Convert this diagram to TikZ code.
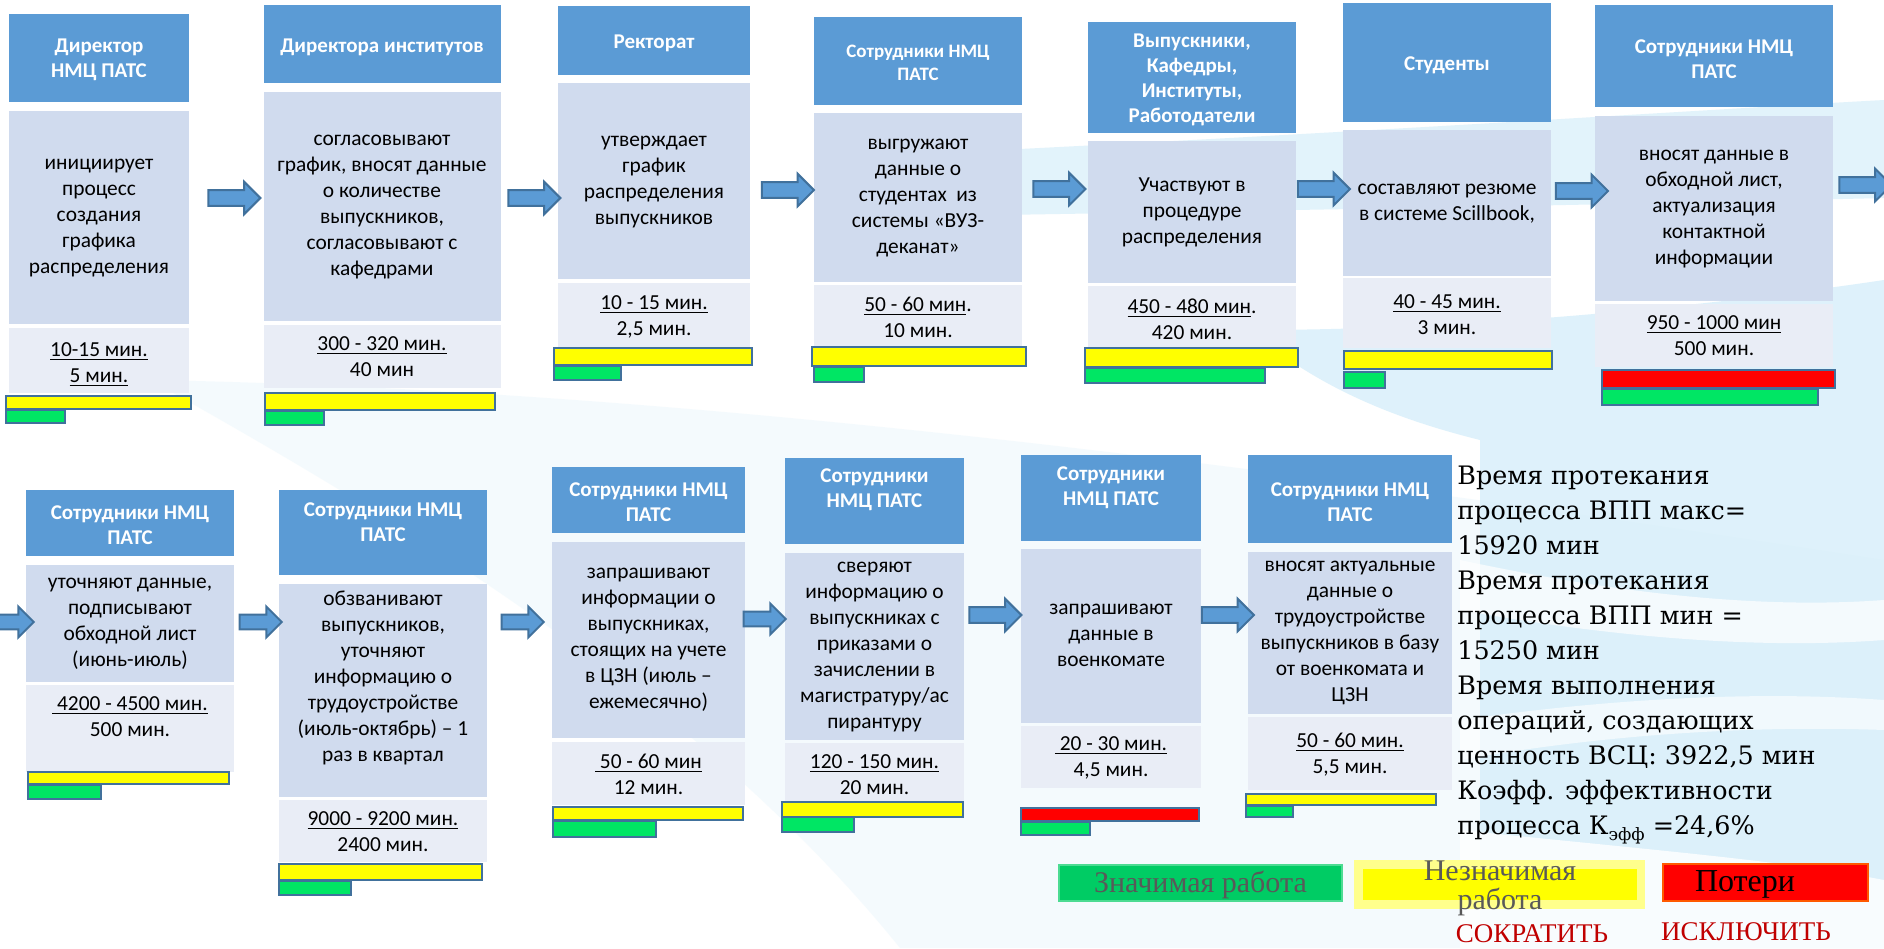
\documentclass[tikz,border=0pt]{standalone}
\usepackage{fontspec}
\setmainfont{Carlito}
\newfontfamily\bkfont{DejaVu Serif}
\newfontfamily\lgfont{Liberation Serif}
\usetikzlibrary{fit,shapes.arrows}
\definecolor{hdrblue}{RGB}{91,155,213}
\definecolor{bodyblue}{RGB}{208,219,238}
\definecolor{timeblue}{RGB}{233,237,246}
\definecolor{edgeblue}{RGB}{65,113,156}
\definecolor{baryellow}{RGB}{255,255,0}
\definecolor{bargreen}{RGB}{0,230,100}
\definecolor{barred}{RGB}{255,0,0}
\definecolor{bgblue}{RGB}{214,238,250}
\definecolor{lggreen}{RGB}{0,204,100}
\definecolor{lgtext}{RGB}{89,89,89}
\definecolor{darkred}{RGB}{192,0,0}
\tikzset{
  box/.style={inner sep=0pt, outer sep=0pt, draw=none},
  hdr/.style={box, fill=hdrblue},
  bodybox/.style={box, fill=bodyblue},
  timebox/.style={box, fill=timeblue},
  bar/.style={inner sep=0pt, outer sep=0pt, draw=edgeblue, line width=1.1pt},
  ybar/.style={bar, fill=baryellow},
  gbar/.style={bar, fill=bargreen},
  rbar/.style={bar, fill=barred},
  htxt/.style={align=center, text=white, inner sep=0pt, font=\bfseries\fontsize{10.5}{12.5}\selectfont},
  htxts/.style={htxt, font=\bfseries\fontsize{9.5}{11.5}\selectfont},
  btxt/.style={align=center, text=black, inner sep=0pt, font=\fontsize{10.7}{13}\selectfont},
  blockarrow/.style={single arrow, draw=edgeblue, fill=hdrblue, line width=1pt,
    single arrow head extend=4.2pt, single arrow tip angle=90, inner ysep=3.4pt, inner xsep=0pt,
    minimum width=15.5pt, minimum height=26pt, outer sep=0pt},
  shortarrow/.style={blockarrow, minimum height=21pt, minimum width=15pt, single arrow head extend=4pt, inner ysep=3.2pt},
  sumtxt/.style={align=left, anchor=north west, inner sep=0pt, text=black, font=\bkfont\fontsize{12.7}{17.5}\selectfont},
}
\begin{document}
\begin{tikzpicture}[x=0.5pt,y=-0.5pt]
\useasboundingbox (0,0) rectangle (1884,948);
\fill[white] (0,0) rectangle (1884,948);
% background swooshes
\fill[bgblue, opacity=0.25] (150,380) .. controls (700,390) and (1300,470) .. (1884,560) -- (1884,948) -- (900,948) .. controls (700,700) and (400,520) .. (150,380) -- cycle;
\fill[bgblue, opacity=0.7] (1000,150) .. controls (1400,130) and (1700,110) .. (1884,100) -- (1884,198) .. controls (1600,205) and (1300,210) .. (1000,215) -- cycle;
\fill[bgblue, opacity=0.8] (1250,330) .. controls (1500,330) and (1750,300) .. (1884,280) -- (1884,948) -- (1480,948) -- (1480,440) .. controls (1400,420) and (1320,390) .. (1250,330) -- cycle;
\fill[white, opacity=0.7] (1460,560) .. controls (1600,590) and (1750,610) .. (1884,600) -- (1884,640) .. controls (1750,650) and (1600,635) .. (1460,610) -- cycle;
\fill[white, opacity=0.6] (1460,720) .. controls (1600,700) and (1750,690) .. (1884,700) -- (1884,730) .. controls (1750,725) and (1600,735) .. (1460,760) -- cycle;
\fill[white, opacity=0.8] (1460,830) .. controls (1650,850) and (1780,860) .. (1884,880) -- (1884,948) -- (1460,948) -- cycle;

% ===== top row =====
% step 1
\node[hdr, fit={(9,14) (189,102)}] (h1) {};
\node[bodybox, fit={(9,111) (189,324)}] (b1) {};
\node[timebox, fit={(9,328) (189,393)}] (t1) {};
\node[ybar, fit={(6,396) (191,409)}] (y1) {};
\node[gbar, fit={(6,410) (65,423)}] (g1) {};
\node[htxt] (h1t) at (99,60) {Директор\\НМЦ ПАТС};
\node[btxt] (b1t) at (99,218) {инициирует\\процесс\\создания\\графика\\распределения};
\node[btxt] (t1t) at (99,365) {\underline{10-15 мин.}\\\underline{5 мин.}};
% step 2
\node[hdr, fit={(264,5) (501,83)}] (h2) {};
\node[bodybox, fit={(264,92) (501,321)}] (b2) {};
\node[timebox, fit={(264,325) (501,388)}] (t2) {};
\node[ybar, fit={(265,393) (495,410)}] (y2) {};
\node[gbar, fit={(265,411) (324,425)}] (g2) {};
\node[htxt] (h2t) at (382,47) {Директора институтов};
\node[btxt] (b2t) at (382,207) {согласовывают\\график, вносят данные\\о количестве\\выпускников,\\согласовывают с\\кафедрами};
\node[btxt] (t2t) at (382,357) {\underline{300 - 320 мин.}\\40 мин};
% step 3
\node[hdr, fit={(558,6) (750,75)}] (h3) {};
\node[bodybox, fit={(558,83) (750,279)}] (b3) {};
\node[timebox, fit={(558,283) (750,347)}] (t3) {};
\node[ybar, fit={(554,348) (752,365)}] (y3) {};
\node[gbar, fit={(554,366) (621,380)}] (g3) {};
\node[htxt] (h3t) at (654,43) {Ректорат};
\node[btxt] (b3t) at (654,182) {утверждает\\график\\распределения\\выпускников};
\node[btxt] (t3t) at (654,317) {\underline{10 - 15 мин.}\\2,5 мин.};
% step 4
\node[hdr, fit={(814,17) (1022,105)}] (h4) {};
\node[bodybox, fit={(814,113) (1022,282)}] (b4) {};
\node[timebox, fit={(814,285) (1022,347)}] (t4) {};
\node[ybar, fit={(812,347) (1026,366)}] (y4) {};
\node[gbar, fit={(814,367) (864,382)}] (g4) {};
\node[htxts] (h4t) at (918,63) {Сотрудники НМЦ\\ПАТС};
\node[btxt] (b4t) at (918,198) {выгружают\\данные о\\студентах\ \ из\\системы «ВУЗ-\\деканат»};
\node[btxt] (t4t) at (918,317) {\underline{50 - 60 мин}.\\10 мин.};
% step 5
\node[hdr, fit={(1088,22) (1296,133)}] (h5) {};
\node[bodybox, fit={(1088,141) (1296,283)}] (b5) {};
\node[timebox, fit={(1088,286) (1296,347)}] (t5) {};
\node[ybar, fit={(1085,348) (1298,367)}] (y5) {};
\node[gbar, fit={(1085,368) (1265,383)}] (g5) {};
\node[htxt] (h5t) at (1192,80) {Выпускники,\\Кафедры,\\Институты,\\Работодатели};
\node[btxt] (b5t) at (1192,212) {Участвуют в\\процедуре\\распределения};
\node[btxt] (t5t) at (1192,319) {\underline{450 - 480 мин}.\\420 мин.};
% step 6
\node[hdr, fit={(1343,3) (1551,122)}] (h6) {};
\node[bodybox, fit={(1343,130) (1551,276)}] (b6) {};
\node[timebox, fit={(1343,278) (1551,348)}] (t6) {};
\node[ybar, fit={(1344,351) (1552,369)}] (y6) {};
\node[gbar, fit={(1344,372) (1385,388)}] (g6) {};
\node[htxt] (h6t) at (1447,65) {Студенты};
\node[btxt] (b6t) at (1447,204) {составляют резюме\\в системе Scillbook,};
\node[btxt] (t6t) at (1447,315) {\underline{40 - 45 мин.}\\3 мин.};
% step 7
\node[hdr, fit={(1595,5) (1833,107)}] (h7) {};
\node[bodybox, fit={(1595,116) (1833,301)}] (b7) {};
\node[timebox, fit={(1595,304) (1833,367)}] (t7) {};
\node[rbar, fit={(1602,370) (1835,388)}] (r7) {};
\node[gbar, fit={(1602,389) (1818,405)}] (g7) {};
\node[htxt] (h7t) at (1714,59) {Сотрудники НМЦ\\ПАТС};
\node[btxt] (b7t) at (1714,209) {вносят данные в\\обходной лист,\\актуализация\\контактной\\информации};
\node[btxt] (t7t) at (1714,336) {\underline{950 - 1000 мин}\\500 мин.};
% top arrows
\node[blockarrow] (a1) at (230.5,198) {};
\node[blockarrow] (a2) at (530.5,198) {};
\node[blockarrow] (a3) at (784,190) {};
\node[blockarrow] (a4) at (1055.5,189) {};
\node[blockarrow] (a5) at (1320,189) {};
\node[blockarrow] (a6) at (1578,191) {};
\node[blockarrow] (a7) at (1861.5,185) {};

% ===== bottom row =====
% step 8
\node[hdr, fit={(26,490) (234,556)}] (h8) {};
\node[bodybox, fit={(26,565) (234,682)}] (b8) {};
\node[timebox, fit={(26,685) (234,772)}] (t8) {};
\node[ybar, fit={(28,772) (229,784)}] (y8) {};
\node[gbar, fit={(28,785) (101,799)}] (g8) {};
\node[htxt] (h8t) at (130,525.5) {Сотрудники НМЦ\\ПАТС};
\node[btxt] (b8t) at (130,624) {уточняют данные,\\подписывают\\обходной лист\\(июнь-июль)};
\node[btxt] (t8t) at (130,717) {\underline{ 4200 - 4500 мин.}\\500 мин.};
% step 9
\node[hdr, fit={(279,490) (487,575)}] (h9) {};
\node[bodybox, fit={(279,584) (487,797)}] (b9) {};
\node[timebox, fit={(279,800) (487,862)}] (t9) {};
\node[ybar, fit={(279,864) (482,880)}] (y9) {};
\node[gbar, fit={(279,881) (351,895)}] (g9) {};
\node[htxt] (h9t) at (383,522) {Сотрудники НМЦ\\ПАТС};
\node[btxt] (b9t) at (383,678) {обзванивают\\выпускников,\\уточняют\\информацию о\\трудоустройстве\\(июль-октябрь) – 1\\раз в квартал};
\node[btxt] (t9t) at (383,832) {\underline{9000 - 9200 мин.}\\2400 мин.};
% step 10
\node[hdr, fit={(552,467) (745,533)}] (h10) {};
\node[bodybox, fit={(552,542) (745,738)}] (b10) {};
\node[timebox, fit={(552,742) (745,805)}] (t10) {};
\node[ybar, fit={(553,807) (743,820)}] (y10) {};
\node[gbar, fit={(553,821) (656,837)}] (g10) {};
\node[htxt] (h10t) at (648.5,502) {Сотрудники НМЦ\\ПАТС};
\node[btxt] (b10t) at (648.5,640) {запрашивают\\информации о\\выпускниках,\\стоящих на учете\\в ЦЗН (июль –\\ежемесячно)};
\node[btxt] (t10t) at (648.5,774) {\underline{ 50 - 60 мин}\\12 мин.};
% step 11
\node[hdr, fit={(785,458) (964,544)}] (h11) {};
\node[bodybox, fit={(785,553) (964,740)}] (b11) {};
\node[timebox, fit={(785,743) (964,803)}] (t11) {};
\node[ybar, fit={(782,802) (963,817)}] (y11) {};
\node[gbar, fit={(782,817) (854,832)}] (g11) {};
\node[htxt] (h11t) at (874.5,490) {Сотрудники\\НМЦ ПАТС};
\node[btxt] (b11t) at (874.5,647) {сверяют\\информацию о\\выпускниках с\\приказами о\\зачислении в\\магистратуру/ас\\пирантуру};
\node[btxt] (t11t) at (874.5,775) {\underline{120 - 150 мин.}\\20 мин.};
% step 12
\node[hdr, fit={(1021,455) (1201,541)}] (h12) {};
\node[bodybox, fit={(1021,549) (1201,723)}] (b12) {};
\node[timebox, fit={(1021,726) (1201,788)}] (t12) {};
\node[rbar, fit={(1021,808) (1199,821)}] (r12) {};
\node[gbar, fit={(1021,822) (1090,835)}] (g12) {};
\node[htxt] (h12t) at (1111,487.5) {Сотрудники\\НМЦ ПАТС};
\node[btxt] (b12t) at (1111,635.5) {запрашивают\\данные в\\военкомате};
\node[btxt] (t12t) at (1111,758) {\underline{ 20 - 30 мин.}\\4,5 мин.};
% step 13
\node[hdr, fit={(1248,455) (1452,543)}] (h13) {};
\node[bodybox, fit={(1248,552) (1452,714)}] (b13) {};
\node[timebox, fit={(1248,717) (1452,790)}] (t13) {};
\node[ybar, fit={(1246,794) (1436,805)}] (y13) {};
\node[gbar, fit={(1246,806) (1293,817)}] (g13) {};
\node[htxt] (h13t) at (1350,502) {Сотрудники НМЦ\\ПАТС};
\node[btxt] (b13t) at (1350,632.5) {вносят актуальные\\данные о\\трудоустройстве\\выпускников в базу\\от военкомата и\\ЦЗН};
\node[btxt] (t13t) at (1350,754.5) {\underline{50 - 60 мин.}\\5,5 мин.};
% bottom arrows
\node[shortarrow] (a8) at (9,622) {};
\node[shortarrow] (a9) at (257,622) {};
\node[shortarrow] (a10) at (519,622) {};
\node[shortarrow] (a11) at (761,619) {};
\node[blockarrow] (a12) at (991.5,615) {};
\node[blockarrow] (a13) at (1224,615) {};

% ===== summary text =====
\node[sumtxt] (sum) at (1457,466) {Время протекания\\процесса ВПП макс=\\15920 мин\\Время протекания\\процесса ВПП мин =\\15250 мин\\Время выполнения\\операций, создающих\\ценность ВСЦ: 3922,5 мин\\Коэфф. эффективности\\процесса К\raisebox{-0.4ex}{\fontsize{8.5}{9}\selectfont эфф} =24,6\%};

% ===== legend =====
\node[inner sep=0pt, fill=lggreen, draw=lggreen!70!white, line width=0.8pt, fit={(1059,865) (1342,901)}] (lg1) {};
\node[text=lgtext, font=\lgfont\fontsize{15}{17}\selectfont, inner sep=0pt] (lg1t) at (1200.5,885) {Значимая работа};
\node[inner sep=0pt, fill=baryellow!45!white, fit={(1354,860) (1645,909)}] (lg2o) {};
\node[inner sep=0pt, fill=baryellow, fit={(1363,869) (1637,900)}] (lg2) {};
\node[text=lgtext, font=\lgfont\fontsize{15}{14.5}\selectfont, inner sep=0pt, align=center] (lg2t) at (1500,888) {Незначимая\\работа};
\node[inner sep=0pt, fill=barred, draw=orange!70!red, line width=0.8pt, fit={(1663,864) (1868,901)}] (lg3) {};
\node[text=black, font=\lgfont\fontsize{16}{18}\selectfont, inner sep=0pt] (lg3t) at (1745,884) {Потери};
\node[text=darkred, font=\lgfont\fontsize{13.5}{15}\selectfont, inner sep=0pt] (cut) at (1532,934) {СОКРАТИТЬ};
\node[text=darkred, font=\lgfont\fontsize{13.5}{15}\selectfont, inner sep=0pt] (excl) at (1746,932) {ИСКЛЮЧИТЬ};
\end{tikzpicture}
\end{document}
